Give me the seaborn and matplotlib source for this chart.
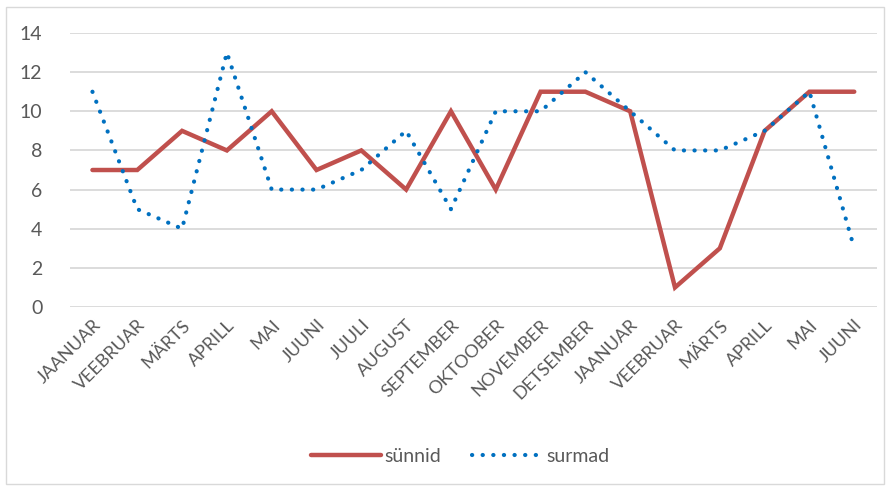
import matplotlib
matplotlib.use("Agg")
import matplotlib.pyplot as plt
import seaborn as sns
import pandas as pd
from matplotlib.patches import Rectangle

months = ["JAANUAR", "VEEBRUAR", "MÄRTS", "APRILL", "MAI", "JUUNI", "JUULI", "AUGUST",
          "SEPTEMBER", "OKTOOBER", "NOVEMBER", "DETSEMBER", "JAANUAR", "VEEBRUAR",
          "MÄRTS", "APRILL", "MAI", "JUUNI"]
sunnid = [7, 7, 9, 8, 10, 7, 8, 6, 10, 6, 11, 11, 10, 1, 3, 9, 11, 11]
surmad = [11, 5, 4, 13, 6, 6, 7, 9, 5, 10, 10, 12, 10, 8, 8, 9, 11, 3]
yticks = [0, 2, 4, 6, 8, 10, 12, 14]

sns.set_theme(style="white")
plt.rcParams['font.family'] = ['Lato', 'DejaVu Sans']

idx = list(range(len(months)))
df = pd.DataFrame({"pos": idx * 2,
                   "value": sunnid + surmad,
                   "series": ["sünnid"] * len(idx) + ["surmad"] * len(idx)})

fig = plt.figure(figsize=(8.9, 4.91), dpi=100)
ax = fig.add_axes([0.0787, 0.3747, 0.985 - 0.0787, 0.9328 - 0.3747])

sns.lineplot(data=df[df.series == "sünnid"], x="pos", y="value", ax=ax,
             color="#C0504D", linewidth=3.2, label="sünnid",
             solid_joinstyle="miter", solid_capstyle="round")
sns.lineplot(data=df[df.series == "surmad"], x="pos", y="value", ax=ax,
             color="#0070C0", linewidth=3.0, label="surmad",
             linestyle=(0, (0.05, 2.5)), dash_capstyle="round")

ax.set_xlim(-0.5, len(months) - 0.5)
ax.set_ylim(0, 14)
ax.set_yticks(yticks)
ax.set_yticklabels([str(t) for t in yticks], fontsize=14, color="#595959")
ax.set_xticks(idx)
ax.set_xticklabels(months, rotation=45, ha="right", rotation_mode="anchor",
                   fontsize=13, color="#595959")
ax.tick_params(axis="both", length=0)
ax.tick_params(axis="y", pad=20)
ax.tick_params(axis="x", pad=7)
ax.set_xlabel("")
ax.set_ylabel("")
ax.grid(axis="y", color="#D9D9D9", linewidth=1.3)
ax.set_axisbelow(True)
for s in ["top", "right", "left", "bottom"]:
    ax.spines[s].set_visible(False)

leg = ax.legend(loc="center", ncol=2, frameon=False,
                fontsize=14, handlelength=3.6, columnspacing=1.6, handletextpad=0.2)
leg.set_bbox_to_anchor((0.517, 1 - 456 / 491), transform=fig.transFigure)
for t in leg.get_texts():
    t.set_color("#595959")

fig.patches.append(Rectangle((6 / 890, 7 / 491), 878 / 890, 477 / 491,
                             transform=fig.transFigure, fill=False,
                             edgecolor="#D9D9D9", linewidth=1))

fig.savefig("out.png", dpi=100, facecolor="white")
